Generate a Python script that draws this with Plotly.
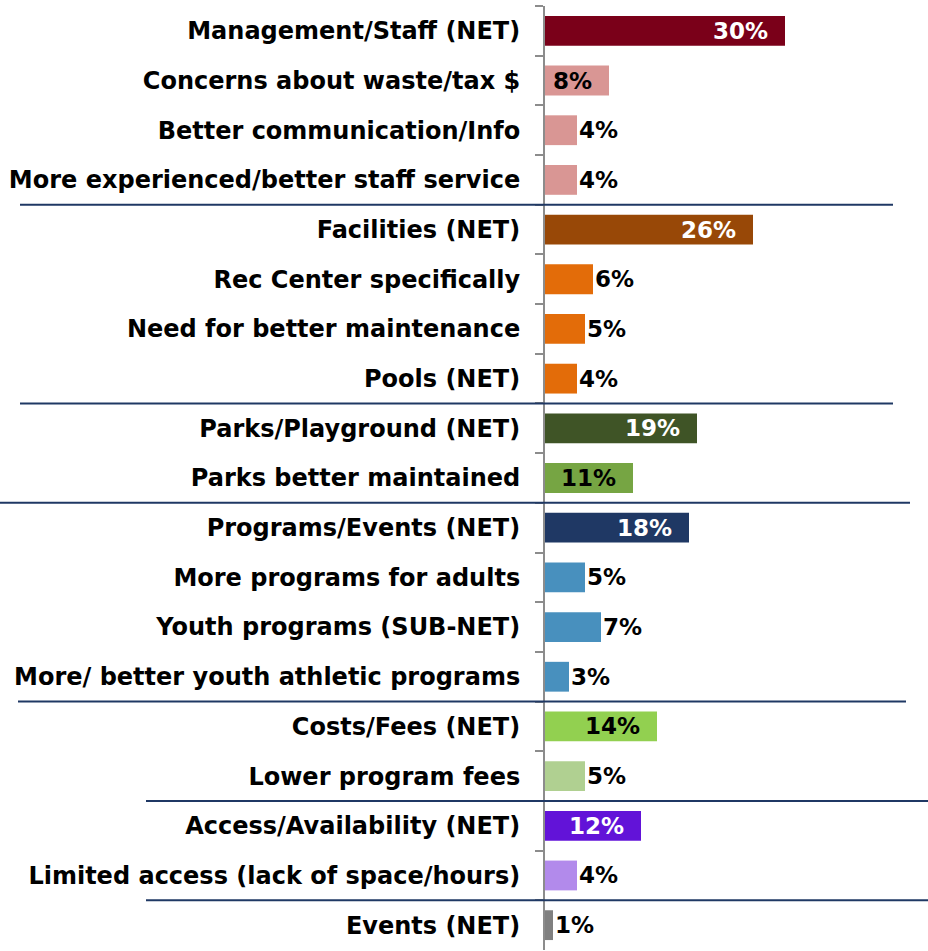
import plotly.graph_objects as go

# data
categories = [
    "Management/Staff (NET)", "Concerns about waste/tax $", "Better communication/Info",
    "More experienced/better staff service", "Facilities (NET)", "Rec Center specifically",
    "Need for better maintenance", "Pools (NET)", "Parks/Playground (NET)",
    "Parks better maintained", "Programs/Events (NET)", "More programs for adults",
    "Youth programs (SUB-NET)", "More/ better youth athletic programs", "Costs/Fees (NET)",
    "Lower program fees", "Access/Availability (NET)", "Limited access (lack of space/hours)",
    "Events (NET)",
]
values = [30, 8, 4, 4, 26, 6, 5, 4, 19, 11, 18, 5, 7, 3, 14, 5, 12, 4, 1]
bar_colors = [
    "#7A0019", "#D99694", "#D99694", "#D99694", "#984807", "#E36C09", "#E36C09", "#E36C09",
    "#3F5426", "#76A543", "#1F3864", "#4890BE", "#4890BE", "#4890BE", "#92D050",
    "#B0D091", "#6213D8", "#B28AEB", "#808080",
]
inside = [True, True, False, False, True, False, False, False, True, True, True,
          False, False, False, True, False, True, False, False]
label_colors = ["white", "black", "black", "black", "white", "black", "black", "black",
                "white", "black", "white", "black", "black", "black", "black", "black",
                "white", "black", "black"]

FONT = "DejaVu Sans"
X0 = 545      # pixel position of the axis
W = 928

fig = go.Figure()
fig.add_trace(go.Bar(
    y=categories, x=values, orientation="h",
    marker=dict(color=bar_colors, line=dict(width=0)),
    hoverinfo="skip",
))

# value labels
for cat, v, ins, col in zip(categories, values, inside, label_colors):
    fig.add_annotation(
        x=v, y=cat, xref="x", yref="y",
        text="<b>%d%%</b>" % v, showarrow=False,
        xanchor="right" if ins else "left",
        xshift=-15 if ins else 0,
        font=dict(family=FONT, size=23, color=col),
    )

# group separators (pixel extents)
seps = [(3.5, 20, 893), (7.5, 20, 893), (9.5, 0, 910), (13.5, 18, 906),
        (15.5, 146, 928), (17.5, 146, 928)]
for yb, x_left, x_right in seps:
    fig.add_shape(
        type="line", xref="paper", yref="y",
        x0=(x_left - X0) / (W - X0), x1=(x_right - X0) / (W - X0), y0=yb, y1=yb,
        line=dict(color="#1F3864", width=2), layer="above",
    )

fig.update_layout(
    width=W, height=951,
    margin=dict(l=X0, r=0, t=6, b=1),
    plot_bgcolor="white", paper_bgcolor="white",
    bargap=0.4, showlegend=False,
    font=dict(family=FONT, color="black"),
)
fig.update_xaxes(range=[0, 47.875], visible=False)
fig.update_yaxes(
    autorange="reversed", tickson="boundaries",
    showline=True, linecolor="#8C8C8C", linewidth=2,
    ticks="outside", ticklen=8, tickcolor="#8C8C8C", tickwidth=2,
    ticklabelstandoff=18,
    tickfont=dict(family=FONT, size=24, color="black", weight="bold"),
    showgrid=False,
)

fig.write_html("out.html", config={"displayModeBar": False},
               post_script="document.body.style.margin='0';")
